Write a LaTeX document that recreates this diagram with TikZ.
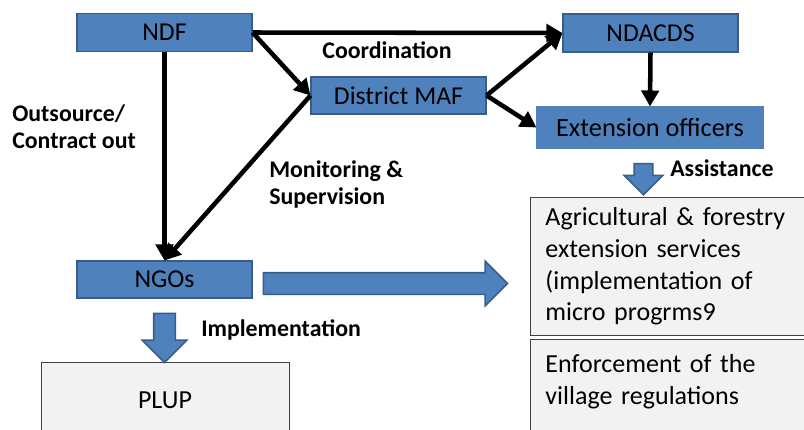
\documentclass[tikz,border=0pt]{standalone}
\usepackage{fontspec}
\setmainfont{Carlito}
\usepackage{tikz}
\usetikzlibrary{shapes.arrows,arrows.meta,positioning}
\definecolor{boxblue}{HTML}{4F81BD}
\definecolor{edgeblue}{HTML}{385D8A}
\definecolor{boxgray}{HTML}{F2F2F2}
\definecolor{edgegray}{HTML}{404040}

\begin{document}
\begin{tikzpicture}[x=0.75pt, y=-0.75pt,
  org/.style={draw=edgeblue, line width=0.8pt, fill=boxblue, font=\fontsize{19.3}{23}\selectfont, minimum width=131.25pt, minimum height=28.5pt, inner sep=0pt},
  task/.style={draw=edgegray, line width=0.7pt, fill=boxgray, font=\fontsize{19.5}{23.8}\selectfont, align=left, text width=202.5pt, inner xsep=11.25pt, inner ysep=6pt, anchor=north west},
  lbl/.style={font=\fontsize{17.9}{20.25}\selectfont\bfseries, align=left, inner sep=0pt},
  arr/.style={-{Triangle[length=12pt, width=13pt]}, line width=3.4pt},
  fat/.style={single arrow, draw=edgeblue, line width=1.2pt, fill=boxblue, inner xsep=0pt}
]
\useasboundingbox (0,0) rectangle (804,429);
\clip (0,0) rectangle (804,429);

% Organisations
\node[org] (ndf) at (164.5,32.5) {NDF};
\node[org] (ndacds) at (650.5,33) {NDACDS};
\node[org, minimum height=27.75pt] (maf) at (398.5,95.5) {District MAF};
\node[org, draw=boxblue, minimum width=169.5pt, minimum height=30.75pt, font=\fontsize{19.7}{23}\selectfont] (ext) at (650,127.5) {Extension officers};
\node[org, minimum height=27.75pt] (ngos) at (164.5,279.5) {NGOs};

% Tasks
\node[task, minimum height=103.5pt] (agri) at (530,197) {Agricultural \& forestry\\extension services\\(implementation of\\micro progrms9};
\node[task, inner ysep=11.5pt] (enf) at (530,339) {Enforcement of the\\village regulations\\~};
\node[draw=edgegray, line width=0.7pt, fill=boxgray, minimum width=186pt, minimum height=57pt, font=\fontsize{19.5}{23.5}\selectfont] (plup) at (165,400) {PLUP};

% Block arrows
\node[fat, minimum height=183pt, inner ysep=7.5pt, single arrow head extend=8.6pt] (toagri) at (380,283.5) {};
\node[fat, rotate=-90, minimum height=36.75pt, inner ysep=7.5pt, single arrow head extend=8.6pt] (toplup) at (164.5,332.5) {};
\node[fat, rotate=-90, minimum height=23.25pt, inner ysep=6.4pt, single arrow head extend=7.5pt] (toserv) at (643.5,174.5) {};

% Labels
\node[lbl, anchor=west] (outsrc) at (12,126.5) {Outsource/\\Contract out};
\node[lbl] (coord) at (387,50) {Coordination};
\node[lbl, anchor=west] (monit) at (269,184.5) {Monitoring \&\\Supervision};
\node[lbl, anchor=west] (implem) at (201,330) {Implementation};
\node[lbl, anchor=west] (assist) at (670,168) {Assistance};

% Links
\draw[arr] (ndf.east) -- (ndacds.west);
\draw[arr] (ndf.east) -- (maf.west);
\draw[arr] (ndf.south) -- (ngos.north);
\draw[arr] (maf.west) -- (ngos.north);
\draw[arr] (maf.east) -- (ndacds.west);
\draw[arr] (maf.east) -- (ext.west);
\draw[arr] (ndacds.south) -- (ext.north);
\end{tikzpicture}
\end{document}
